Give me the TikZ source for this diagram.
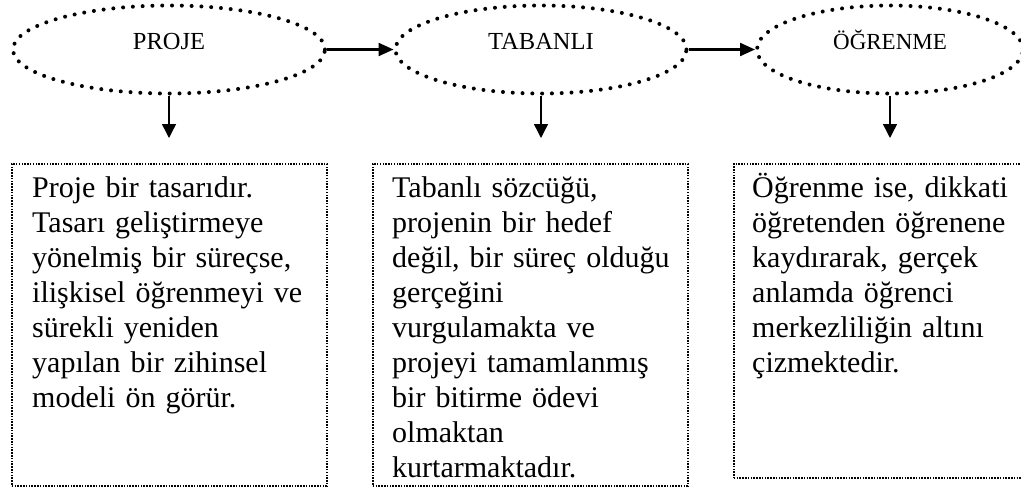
\documentclass[tikz,border=0pt]{standalone}
\usepackage{fontspec}
\setmainfont{Liberation Serif}
\usetikzlibrary{shapes.geometric,arrows.meta}

\tikzset{
  oval/.style={ellipse,draw,line width=4pt,line cap=round,dash pattern=on 0pt off 9.8pt,
    minimum height=88pt,text height=18pt,text depth=18pt,font=\fontsize{24.5}{28}\selectfont},
  kutu/.style={rectangle,draw,line width=1.6pt,dash pattern=on 1.5pt off 1.3pt,
    minimum width=315pt,anchor=north west},
  metin/.style={anchor=base west,inner sep=0pt,text width=300pt,align=left,
    font=\fontsize{30}{35}\selectfont},
  yatay/.style={-{Triangle[length=15pt,width=13pt]},line width=2.3pt},
  asagi/.style={-{Triangle[length=14pt,width=14pt]},line width=1.4pt,shorten >=25pt}
}

\begin{document}
\begin{tikzpicture}[x=1pt,y=-1pt]
  \useasboundingbox (0,0) rectangle (1021,491);
  \clip (0,0) rectangle (1021,491);

% Ovals
  \node[oval,minimum width=312pt] (proje) at (169,49.5) {PROJE};
  \node[oval,minimum width=291pt] (tabanli) at (541,49.5) {TABANLI};
  \node[oval,minimum width=266pt,font=\fontsize{23}{27}\selectfont] (ogrenme) at (890,49.5) {ÖĞRENME};

% Boxes
  \node[kutu,minimum height=322pt] (kproje) at (11,163) {};
  \node[kutu,minimum height=322pt] (ktabanli) at (372,163) {};
  \node[kutu,minimum height=314pt] (kogrenme) at (733,163) {};

% Texts
  \node[metin] (tproje) at ([xshift=21pt,yshift=-34pt]kproje.north west)
    {Proje bir tasarıdır. Tasarı geliştirmeye yönelmiş bir süreçse, ilişkisel öğrenmeyi ve\\
     sürekli yeniden\\ yapılan bir zihinsel modeli ön görür.};
  \node[metin] (ttabanli) at ([xshift=20pt,yshift=-34pt]ktabanli.north west)
    {Tabanlı sözcüğü,\\ projenin bir hedef\\ değil, bir süreç olduğu\\ gerçeğini\\
     vurgulamakta ve\\ projeyi tamamlanmış\\ bir bitirme ödevi\\ olmaktan\\ kurtarmaktadır.};
  \node[metin] (togrenme) at ([xshift=19pt,yshift=-34pt]kogrenme.north west)
    {Öğrenme ise, dikkati\\ öğretenden öğrenene\\ kaydırarak, gerçek\\ anlamda öğrenci\\
     merkezliliğin altını\\ çizmektedir.};

% Arrows
  \draw[yatay] (proje.east) -- (tabanli.west);
  \draw[yatay] (tabanli.east) -- (ogrenme.west);
  \draw[asagi] (proje.south) -- (proje.south |- kproje.north);
  \draw[asagi] (tabanli.south) -- (tabanli.south |- ktabanli.north);
  \draw[asagi] (ogrenme.south) -- (ogrenme.south |- kogrenme.north);

\end{tikzpicture}
\end{document}
